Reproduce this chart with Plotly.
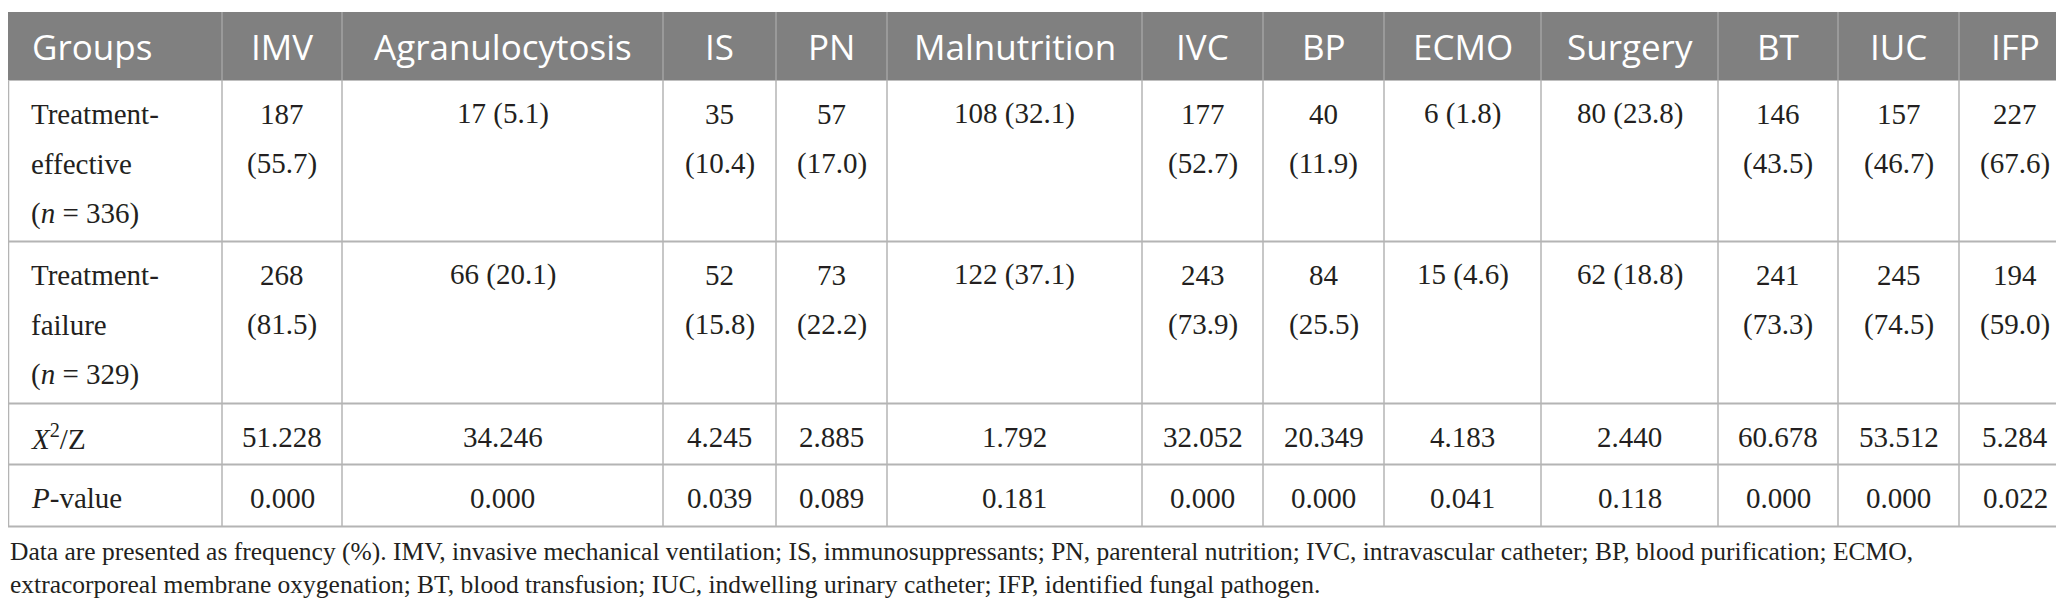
import plotly.graph_objects as go

# --- DATA ---
columns = ["Groups", "IMV", "Agranulocytosis", "IS", "PN", "Malnutrition", "IVC",
           "BP", "ECMO", "Surgery", "BT", "IUC", "IFP"]
row_labels = ["Treatment-<br>effective<br>(<i>n</i> = 336)",
              "Treatment-<br>failure<br>(<i>n</i> = 329)",
              "<i>X</i><sup>2</sup>/Z",
              "<i>P</i>-value"]
effective_n = [187, 17, 35, 57, 108, 177, 40, 6, 80, 146, 157, 227]
effective_pct = [55.7, 5.1, 10.4, 17.0, 32.1, 52.7, 11.9, 1.8, 23.8, 43.5, 46.7, 67.6]
failure_n = [268, 66, 52, 73, 122, 243, 84, 15, 62, 241, 245, 194]
failure_pct = [81.5, 20.1, 15.8, 22.2, 37.1, 73.9, 25.5, 4.6, 18.8, 73.3, 74.5, 59.0]
chi2_z = ["51.228", "34.246", "4.245", "2.885", "1.792", "32.052", "20.349",
          "4.183", "2.440", "60.678", "53.512", "5.284"]
p_values = ["0.000", "0.000", "0.039", "0.089", "0.181", "0.000", "0.000",
            "0.041", "0.118", "0.000", "0.000", "0.022"]
footnote = ("Data are presented as frequency (%). IMV, invasive mechanical ventilation; "
            "IS, immunosuppressants; PN, parenteral nutrition; IVC, intravascular catheter; "
            "BP, blood purification; ECMO,<br>extracorporeal membrane oxygenation; "
            "BT, blood transfusion; IUC, indwelling urinary catheter; IFP, identified fungal pathogen.")

# --- LAYOUT ---
W, H = 2064, 609
col_widths = [214, 120, 321, 113, 111, 255, 121, 121, 157, 177, 120, 121, 112]
table_top = 4
header_h = 68.5
row_heights = [161, 162, 61, 62]
line_gap = 50
first_line = 33
HEAD_FONT = "Open Sans"
BODY_FONT = "Liberation Serif"
GRID = "#b4b4b4"


def freq(n, p, width):
    sep = "<br>" if width < 140 else " "
    return f"{n}{sep}({p:.1f})"


edges = [0]
for w in col_widths:
    edges.append(edges[-1] + w)
centers = [(a + b) / 2 for a, b in zip(edges[:-1], edges[1:])]

row_tops = [table_top + header_h]
for h in row_heights:
    row_tops.append(row_tops[-1] + h)

body = [
    [freq(n, p, w) for n, p, w in zip(effective_n, effective_pct, col_widths[1:])],
    [freq(n, p, w) for n, p, w in zip(failure_n, failure_pct, col_widths[1:])],
    chi2_z,
    p_values,
]

fig = go.Figure()
shapes = []
annotations = []

# header band
shapes.append(dict(type="rect", xref="x", yref="y", x0=edges[0], x1=edges[-1],
                   y0=table_top, y1=row_tops[0], fillcolor="#808080",
                   line=dict(width=0), layer="below"))
for x in edges[1:-1]:
    shapes.append(dict(type="line", xref="x", yref="y", x0=x, x1=x,
                       y0=table_top, y1=row_tops[0], line=dict(color="#a3a3a3", width=1.5)))
for i, name in enumerate(columns):
    left = i == 0
    annotations.append(dict(
        x=edges[i] + 22 if left else centers[i], y=(table_top + row_tops[0]) / 2,
        xref="x", yref="y", text=name, showarrow=False,
        xanchor="left" if left else "center", yanchor="middle",
        font=dict(family=HEAD_FONT, size=35, color="white")))

# body grid
for y in row_tops[1:]:
    shapes.append(dict(type="line", xref="x", yref="y", x0=edges[0], x1=edges[-1],
                       y0=y, y1=y, line=dict(color=GRID, width=2)))
for x in [edges[0] + 0.5] + edges[1:-1] + [edges[-1] - 0.5]:
    shapes.append(dict(type="line", xref="x", yref="y", x0=x, x1=x,
                       y0=row_tops[0], y1=row_tops[-1], line=dict(color=GRID, width=1.5)))

# body text, one annotation per line
for r, (label, cells) in enumerate(zip(row_labels, body)):
    top = row_tops[r]
    for k, line in enumerate(label.split("<br>")):
        annotations.append(dict(
            x=edges[0] + 21, y=top + first_line + k * line_gap, xref="x", yref="y",
            text=line, showarrow=False, xanchor="left", yanchor="middle",
            font=dict(family=BODY_FONT, size=29, color="#231f20")))
    for c, cell in enumerate(cells):
        for k, line in enumerate(cell.split("<br>")):
            annotations.append(dict(
                x=centers[c + 1], y=top + first_line + k * line_gap, xref="x", yref="y",
                text=line, showarrow=False, xanchor="center", yanchor="middle",
                font=dict(family=BODY_FONT, size=29, color="#231f20")))

# footnote
annotations.append(dict(
    x=0, y=row_tops[-1] + 8, xref="x", yref="y", text=footnote, showarrow=False,
    xanchor="left", yanchor="top", align="left",
    font=dict(family=BODY_FONT, size=25.5, color="#231f20")))

fig.update_layout(
    width=W, height=H,
    margin=dict(l=0, r=0, t=0, b=0),
    paper_bgcolor="white", plot_bgcolor="white",
    xaxis=dict(range=[0, W], visible=False, fixedrange=True),
    yaxis=dict(range=[H, 0], visible=False, fixedrange=True),
    shapes=shapes, annotations=annotations,
    showlegend=False,
)

fig.write_html("out.html", config={"displayModeBar": False})
